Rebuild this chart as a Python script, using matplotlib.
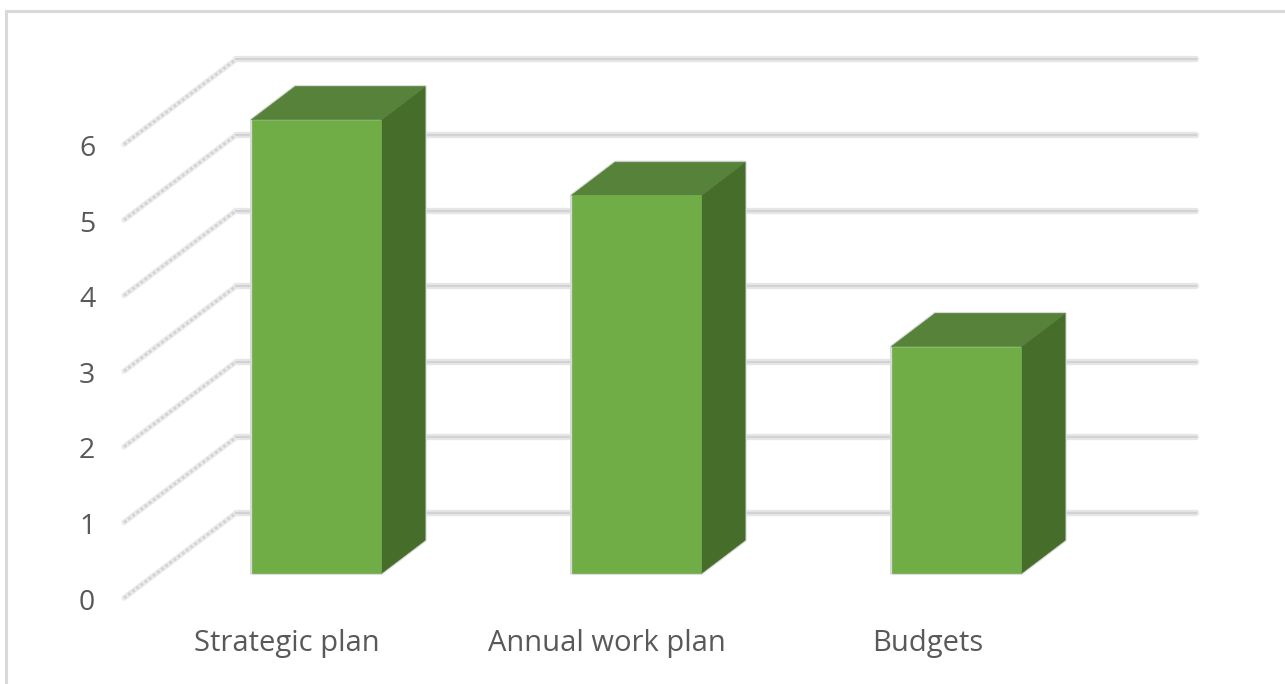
import matplotlib
matplotlib.use("Agg")
import matplotlib.pyplot as plt
from matplotlib.patches import Polygon
from matplotlib.lines import Line2D

categories = ["Strategic plan", "Annual work plan", "Budgets"]
values = [6, 5, 3]
yticks = [0, 1, 2, 3, 4, 5, 6]

W, H = 1285, 684
fig = plt.figure(figsize=(W / 100, H / 100), dpi=100)
ax = fig.add_axes([0, 0, 1, 1])
ax.axis('off')

# axis scaling (pixels per data unit) for the front plane
ppu_x, ppu_y = 320.0, 75.6
x0_px, y0_px = 124, 598
ax.set_xlim(-x0_px / ppu_x, (W - x0_px) / ppu_x)
ax.set_ylim(-(H - y0_px) / ppu_y, y0_px / ppu_y)

# oblique depth offset (full depth)
DX, DY = 112 / ppu_x, 85 / ppu_y


def proj(x, y, d):
    return (x + d * DX, y + d * DY)


ncat = len(categories)

# back wall gridlines and side wall diagonals
for v in yticks:
    (xa, ya), (xb, yb) = proj(0, v, 1), proj(ncat, v, 1)
    ax.plot([xa, xb], [ya, yb], color='#e6e6e6', lw=4.5, solid_capstyle='round', zorder=1)
    ax.plot([xa, xb], [ya, yb], color='#d2d2d2', lw=1.5, zorder=1.1)
    (xc, yc), (xd, yd) = proj(0, v, 0), proj(0, v, 1)
    ax.plot([xc, xd], [yc, yd], color='#ececec', lw=4, solid_capstyle='round', zorder=1)
    ax.plot([xc, xd], [yc, yd], color='#d4d4d4', lw=2.2, linestyle=(0, (1.0, 0.7)), zorder=1.1)

# bars
bw = 0.406
d0, d1 = 0.29, 0.68
front_c, top_c, side_c = '#70AD47', '#56823A', '#476D2A'
for i, v in enumerate(values):
    xl = i + (1 - bw) / 2
    xr = xl + bw
    outline = [proj(xl, 0, d0), proj(xr, 0, d0), proj(xr, 0, d1), proj(xr, v, d1),
               proj(xl, v, d1), proj(xl, v, d0)]
    ax.add_patch(Polygon(outline, closed=True, facecolor='none', edgecolor='#d9d9d9',
                         lw=2.2, joinstyle='round', zorder=2.9))
    side = [proj(xr, 0, d0), proj(xr, 0, d1), proj(xr, v, d1), proj(xr, v, d0)]
    top = [proj(xl, v, d0), proj(xr, v, d0), proj(xr, v, d1), proj(xl, v, d1)]
    front = [proj(xl, 0, d0), proj(xr, 0, d0), proj(xr, v, d0), proj(xl, v, d0)]
    for pts, c in ((side, side_c), (top, top_c), (front, front_c)):
        ax.add_patch(Polygon(pts, closed=True, facecolor=c, edgecolor=c,
                             lw=0.5, joinstyle='miter', zorder=3))

# value axis labels
font = ['Open Sans', 'DejaVu Sans']
for v in yticks:
    ax.text(-0.115, v - 0.06, str(v), ha='center', va='center', fontsize=20.5,
            color='#595959', family=font, zorder=4)

# category labels
for i, c in enumerate(categories):
    ax.text(i + 0.5 + 0.01, -0.6, c, ha='center', va='center', fontsize=21,
            color='#595959', family=font, zorder=4)

# chart area border
fig.add_artist(Line2D([6 / W, 1], [1 - 11 / H, 1 - 11 / H], color='#d9d9d9', lw=2.2))
fig.add_artist(Line2D([6 / W, 6 / W], [0, 1 - 11 / H], color='#d9d9d9', lw=2.2))

fig.savefig('out.png', dpi=100, facecolor='white')
